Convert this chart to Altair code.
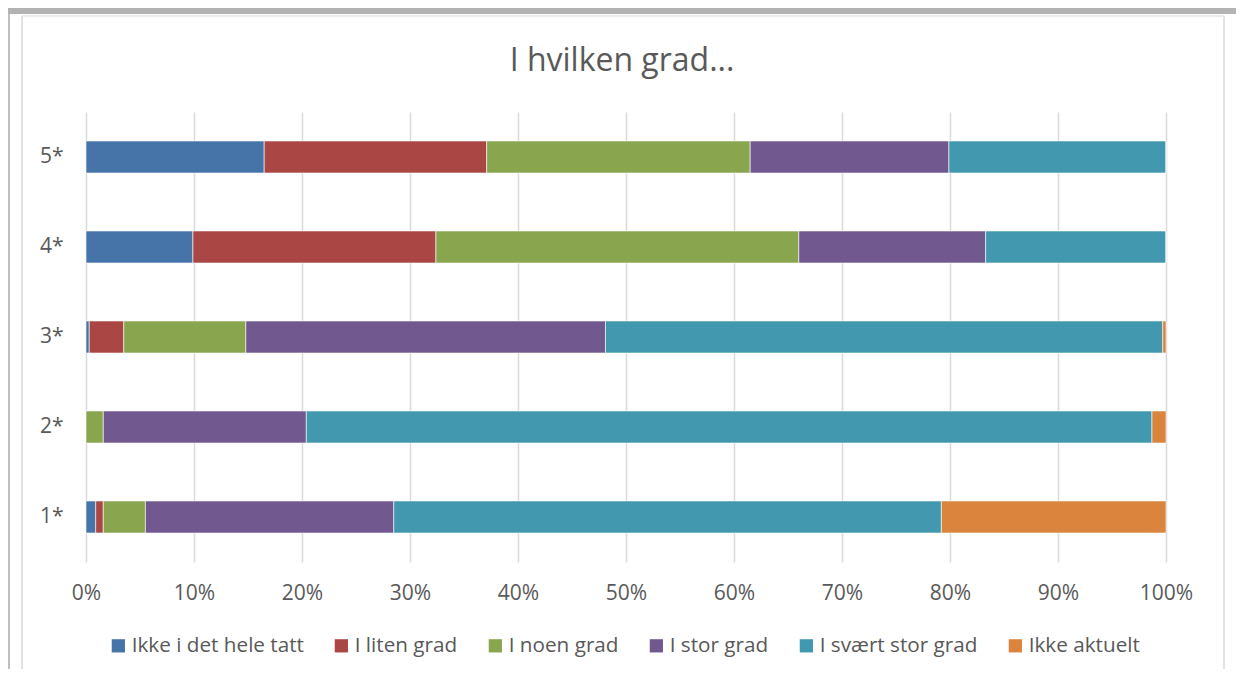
import altair as alt
import pandas as pd

questions = ["1*", "2*", "3*", "4*", "5*"]
series = ["Ikke i det hele tatt", "I liten grad", "I noen grad", "I stor grad", "I svært stor grad", "Ikke aktuelt"]
colors = ["#4674A9", "#AA4644", "#89A54E", "#71588F", "#4198AF", "#DB843D"]
title_text = ["I hvilken grad..."]

ikke_i_det_hele_tatt = [0.9, 0.0, 0.3, 9.9, 16.5]
i_liten_grad = [0.7, 0.0, 3.2, 22.5, 20.6]
i_noen_grad = [3.9, 1.6, 11.3, 33.6, 24.4]
i_stor_grad = [23.0, 18.8, 33.3, 17.3, 18.4]
i_svaert_stor_grad = [50.7, 78.3, 51.6, 16.7, 20.1]
ikke_aktuelt = [20.8, 1.3, 0.3, 0.0, 0.0]

values = [ikke_i_det_hele_tatt, i_liten_grad, i_noen_grad, i_stor_grad, i_svaert_stor_grad, ikke_aktuelt]
rows = []
for si, (s, vals) in enumerate(zip(series, values)):
    for q, v in zip(questions, vals):
        rows.append({"q": q, "serie": s, "pct": v / 100.0, "ord": si})
df = pd.DataFrame(rows)
single = pd.DataFrame({"t": title_text})

FONT = "Open Sans"
GREY = "#595959"

bars = alt.Chart(df).mark_bar(stroke="white", strokeWidth=0.6).encode(
    x=alt.X("pct:Q", stack="normalize",
            scale=alt.Scale(domain=[0, 1], nice=False),
            axis=alt.Axis(format="%", values=[i / 10 for i in range(11)], title=None,
                          domain=False, ticks=False, grid=True, gridColor="#D9D9D9", gridWidth=1.5,
                          labelFlush=False,
                          labelFont=FONT, labelFontSize=21, labelColor=GREY, labelPadding=20)),
    y=alt.Y("q:N", sort=["5*", "4*", "3*", "2*", "1*"],
            scale=alt.Scale(paddingInner=0.644, paddingOuter=0.322),
            axis=alt.Axis(title=None, domain=False, ticks=False, grid=False,
                          labelFont=FONT, labelFontSize=21, labelColor=GREY, labelPadding=23)),
    color=alt.Color("serie:N", scale=alt.Scale(domain=series, range=colors),
                    legend=alt.Legend(orient="none", legendX=22, legendY=523, direction="horizontal",
                                      title=None, symbolType="square", symbolSize=175,
                                      symbolStrokeWidth=0, labelFont=FONT, labelFontSize=20.7,
                                      labelColor=GREY, columnPadding=27, labelOffset=3,
                                      labelLimit=400)),
    order=alt.Order("ord:Q"),
)

title = alt.Chart(single).mark_text(font=FONT, fontSize=32, color=GREY, align="center",
                                    baseline="alphabetic").encode(
    text="t:N", x=alt.value(536), y=alt.value(-41))

# decorative frame
top_bar = alt.Chart(single).mark_rect(color="#B3B3B3").encode(
    x=alt.value(-78), x2=alt.value(1150), y=alt.value(-104), y2=alt.value(-98))
left_line = alt.Chart(single).mark_rule(color="#BFBFBF", strokeWidth=2).encode(
    x=alt.value(-77), y=alt.value(-98), y2=alt.value(560))
inner_left = alt.Chart(single).mark_rule(color="#D9D9D9", strokeWidth=1.5).encode(
    x=alt.value(-64), y=alt.value(-96), y2=alt.value(560))
inner_right = alt.Chart(single).mark_rule(color="#D9D9D9", strokeWidth=1.5).encode(
    x=alt.value(1138), y=alt.value(-96), y2=alt.value(560))
inner_top = alt.Chart(single).mark_rule(color="#E6E6E6", strokeWidth=1.5).encode(
    x=alt.value(-64), x2=alt.value(1138), y=alt.value(-96))

chart = alt.layer(bars, title, top_bar, left_line, inner_left, inner_right, inner_top).properties(
    width=1080, height=450,
    autosize=alt.AutoSizeParams(type="none"),
    padding={"left": 78, "top": 104, "right": 70, "bottom": 107},
).configure_view(stroke=None)

chart.save("out.html", embed_options={"renderer": "svg", "actions": False})
